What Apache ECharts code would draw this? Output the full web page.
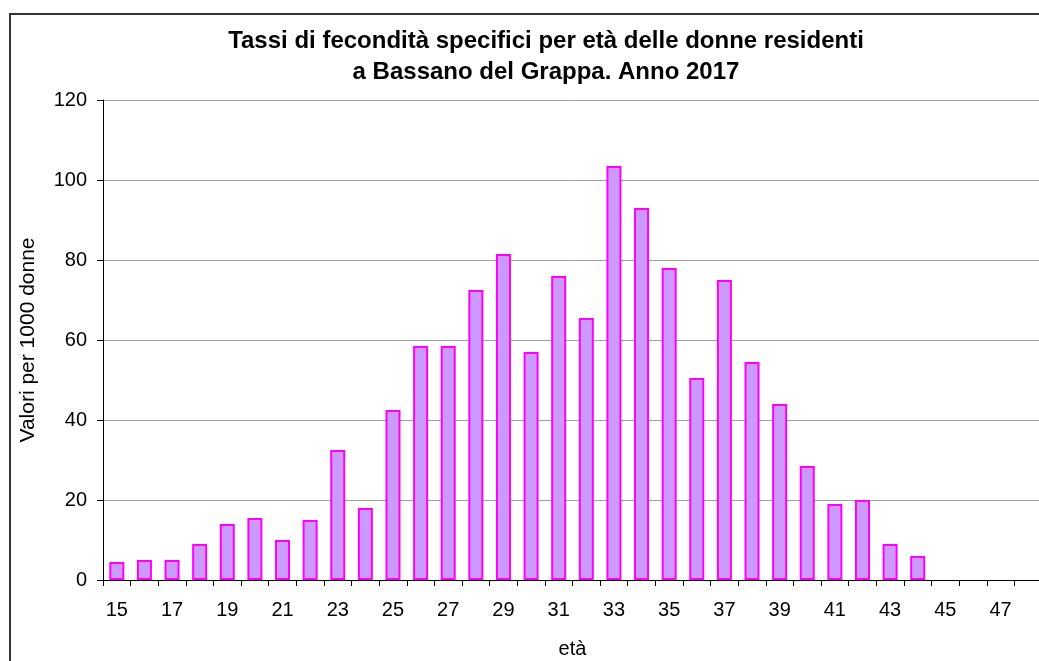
<!DOCTYPE html>
<html>
<head>
<meta charset="utf-8">
<script src="https://cdn.jsdelivr.net/npm/echarts@6/dist/echarts.min.js"></script>
<style>
  html, body { margin: 0; padding: 0; background: #fff; }
  #chart { width: 1039px; height: 661px; }
</style>
</head>
<body>
<div id="chart"></div>
<script>
// età 15..48
var ages = [];
for (var a = 15; a <= 48; a++) ages.push(String(a));

// tassi per 1000 donne, 45-48 senza valore
var rates = [4.5, 5, 5, 9, 14, 15.5, 10, 15, 32.5, 18,
             42.5, 58.5, 58.5, 72.5, 81.5, 57, 76, 65.5, 103.5, 93,
             78, 50.5, 75, 54.5, 44, 28.5, 19, 20, 9, 6,
             null, null, null, null];

var yTicks = [0, 20, 40, 60, 80, 100, 120];

var chart = echarts.init(document.getElementById('chart'));

var option = {
  animation: false,
  textStyle: { fontFamily: 'Liberation Sans, Arial, sans-serif' },
  graphic: [
    {
      type: 'rect',
      shape: { x: 10, y: 14, width: 1100, height: 700 },
      style: { fill: 'none', stroke: '#333', lineWidth: 2 }
    }
  ],
  title: {
    text: 'Tassi di fecondità specifici per età delle donne residenti\na Bassano del Grappa. Anno 2017',
    left: 541,
    top: 21,
    textAlign: 'center',
    textStyle: {
      fontSize: 24,
      fontWeight: 'bold',
      color: '#000',
      lineHeight: 31
    }
  },
  grid: {
    left: 103,
    top: 100,
    width: 939,
    height: 480,
    outerBoundsMode: 'none'
  },
  xAxis: {
    type: 'category',
    data: ages,
    name: 'età',
    nameLocation: 'middle',
    nameGap: 59,
    nameTextStyle: { fontSize: 20, color: '#000' },
    axisLine: { lineStyle: { color: '#000', width: 1 } },
    axisTick: { show: true, interval: 0, length: 6, lineStyle: { color: '#000' } },
    axisLabel: { interval: 1, fontSize: 20, color: '#000', margin: 20 }
  },
  yAxis: {
    type: 'value',
    min: yTicks[0],
    max: yTicks[yTicks.length - 1],
    interval: 20,
    name: 'Valori per 1000 donne',
    nameLocation: 'middle',
    nameGap: 64,
    nameTextStyle: { fontSize: 21, color: '#000' },
    axisLine: { show: true, lineStyle: { color: '#000', width: 1 } },
    axisTick: { show: true, length: 6, lineStyle: { color: '#000' } },
    axisLabel: { fontSize: 20, color: '#000', margin: 16 },
    splitLine: { lineStyle: { color: '#a0a0a0', width: 1 } }
  },
  series: [
    {
      name: 'tassi',
      type: 'bar',
      data: rates,
      barWidth: 15,
      itemStyle: {
        color: '#CC99FF',
        borderColor: '#FF00FF',
        borderWidth: 2
      }
    }
  ]
};

chart.setOption(option);
</script>
</body>
</html>
